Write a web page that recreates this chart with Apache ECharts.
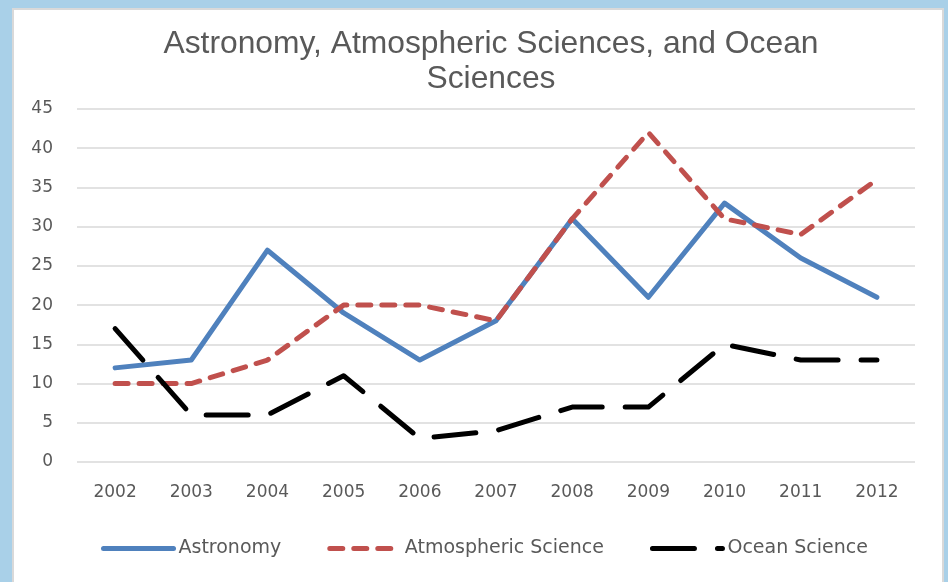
<!DOCTYPE html>
<html>
<head>
<meta charset="utf-8">
<script src="https://cdn.jsdelivr.net/npm/echarts@6/dist/echarts.min.js"></script>
<style>
html,body{margin:0;padding:0;background:#a9d0e8;}
#chart{width:948px;height:582px;}
</style>
</head>
<body>
<div id="chart"></div>
<script>
const titleText = 'Astronomy, Atmospheric Sciences, and Ocean\nSciences';
const years = ['2002','2003','2004','2005','2006','2007','2008','2009','2010','2011','2012'];
const astronomy = [12, 13, 27, 19, 13, 18, 31, 21, 33, 26, 21];
const atmospheric = [10, 10, 13, 20, 20, 18, 31, 42, 31, 29, 36];
const ocean = [17, 6, 6, 11, 3, 4, 7, 7, 15, 13, 13];
const seriesNames = ['Astronomy', 'Atmospheric Science', 'Ocean Science'];

const chart = echarts.init(document.getElementById('chart'), null, {renderer: 'canvas'});
const labelFont = 'DejaVu Sans';
chart.setOption({
  backgroundColor: '#a9d0e8',
  animation: false,
  graphic: [{
    type: 'rect', z: -10, silent: true,
    shape: {x: 13, y: 9, width: 930, height: 600},
    style: {fill: '#ffffff', stroke: '#d9d9d9', lineWidth: 2}
  }],
  title: {
    text: titleText,
    left: 486, top: 22,
    textAlign: 'center',
    textStyle: {fontFamily: 'Liberation Sans', fontSize: 31.8, fontWeight: 'normal', color: '#595959', lineHeight: 35}
  },
  grid: {left: 77, right: 33, top: 109, bottom: 120},
  legend: {
    left: 96, top: 534,
    itemWidth: 70, itemHeight: 12, itemGap: 46,
    itemStyle: {opacity: 0},
    lineStyle: {width: 5, cap: 'round'},
    textStyle: {fontFamily: labelFont, fontSize: 19, color: '#595959'},
    data: seriesNames
  },
  xAxis: {
    type: 'category', data: years, boundaryGap: true,
    axisLine: {show: false}, axisTick: {show: false},
    axisLabel: {fontFamily: labelFont, fontSize: 17, color: '#595959', margin: 22}
  },
  yAxis: {
    type: 'value', min: 0, max: 45, interval: 5,
    axisLine: {show: false}, axisTick: {show: false},
    axisLabel: {fontFamily: labelFont, fontSize: 17, color: '#595959', margin: 24},
    splitLine: {lineStyle: {color: '#d9d9d9', width: 1.5}}
  },
  series: [
    {
      name: seriesNames[0], type: 'line', data: astronomy, symbol: 'none',
      itemStyle: {color: '#4f81bd'},
      lineStyle: {color: '#4f81bd', width: 5, cap: 'round', join: 'round'}
    },
    {
      name: seriesNames[1], type: 'line', data: atmospheric, symbol: 'none',
      itemStyle: {color: '#c0504d'},
      lineStyle: {color: '#c0504d', width: 5, type: [13, 11], cap: 'round', join: 'round'}
    },
    {
      name: seriesNames[2], type: 'line', data: ocean, symbol: 'none',
      itemStyle: {color: '#000000'},
      lineStyle: {color: '#000000', width: 5, type: [42, 23], cap: 'round', join: 'round'}
    }
  ]
});
</script>
</body>
</html>
